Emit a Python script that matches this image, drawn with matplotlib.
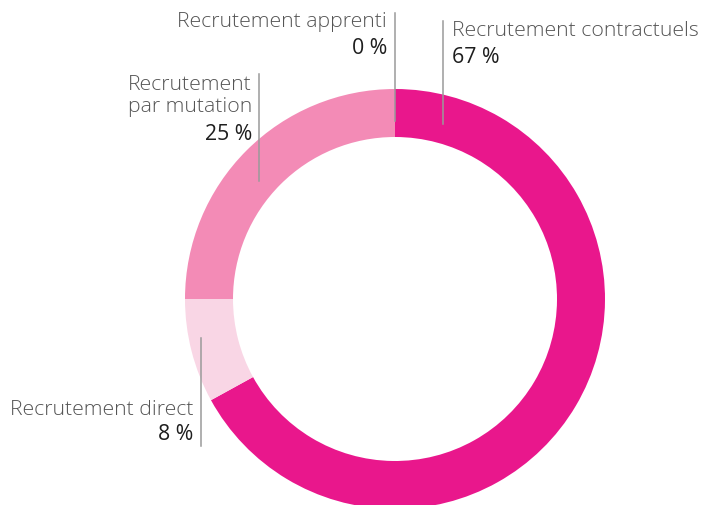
import matplotlib
matplotlib.use("Agg")
import matplotlib.pyplot as plt

# recruitment breakdown, clockwise from the top
categories = ["Recrutement contractuels", "Recrutement direct",
              "Recrutement\npar mutation", "Recrutement apprenti"]
shares = [67, 8, 25, 0]
pct_labels = ["67 %", "8 %", "25 %", "0 %"]
colors = ["#E9178C", "#F9D6E5", "#F38BB6", "#E9178C"]

W, H = 705, 506
fig = plt.figure(figsize=(W / 100, H / 100), dpi=100)
ax = fig.add_axes([0, 0, 1, 1])

# pixel layout (y measured from the top of the image)
cx, cy = 395, 300
R, ring = 210, 48

ax.pie(shares, colors=colors, startangle=90, counterclock=False,
       center=(cx, H - cy), radius=R,
       wedgeprops=dict(width=ring, linewidth=0))
ax.set_xlim(0, W)
ax.set_ylim(0, H)
ax.set_aspect("equal")
ax.axis("off")

label_font = dict(family=["Open Sans", "DejaVu Sans"], fontsize=15.3,
                  color="#555555", fontweight="light")
pct_font = dict(family=["Open Sans", "DejaVu Sans"], fontsize=15.3,
                color="#1e1e1e", fontweight="normal")

# (line x, line top, line bottom, text x, label y, pct y, ha)
layout = {
    "Recrutement contractuels": (443, 22, 125, 452, 31, 57, "left"),
    "Recrutement direct": (201, 339, 447, 193, 410, 435, "right"),
    "Recrutement\npar mutation": (259, 75, 182, 252, 96, 134, "right"),
    "Recrutement apprenti": (395, 14, 122, 387, 22, 48, "right"),
}

for cat, pct in zip(categories, pct_labels):
    lx, ly0, ly1, tx, yl, yp, ha = layout[cat]
    ax.plot([lx, lx], [H - ly0, H - ly1], color="#9a9a9a", linewidth=1.1)
    ax.text(tx, H - yl, cat, ha=ha, va="center", linespacing=1.15, **label_font)
    ax.text(tx, H - yp, pct, ha=ha, va="center", **pct_font)

fig.savefig("out.png", dpi=100)
